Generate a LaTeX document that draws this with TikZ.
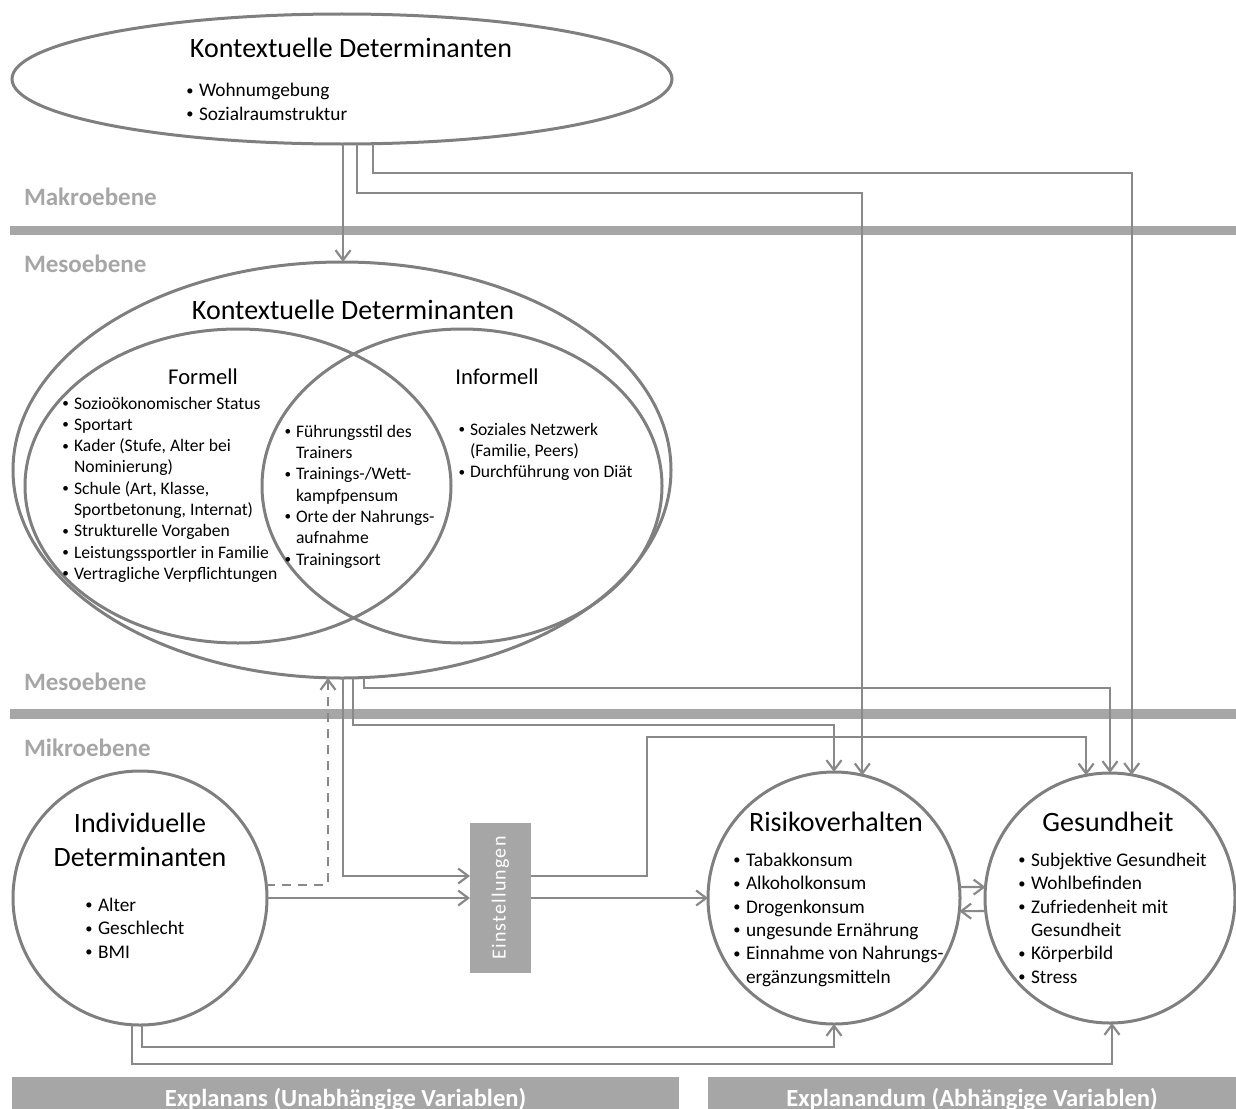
\documentclass[tikz,border=0pt]{standalone}
\usepackage{fontspec}
\setmainfont{Carlito}
\usepackage{graphicx}
\usetikzlibrary{arrows.meta,shapes.geometric}
\definecolor{edgegray}{HTML}{7F7F7F}
\definecolor{linegray}{HTML}{898989}
\definecolor{bargray}{HTML}{A6A6A6}
% hanging bullet: the item text starts at the node's left edge
\newcommand\bp{\llap{\raisebox{0.08em}{\scalebox{0.75}{•}}\hspace{0.28em}}}
\newcommand\fs[2]{\fontsize{#1}{#2}\selectfont}
\begin{document}
\begin{tikzpicture}[x=1pt,y=-1pt,
  every node/.style={inner sep=0pt, outer sep=0pt},
  oval/.style={ellipse, draw=edgegray, line width=3pt},
  disc/.style={circle, draw=edgegray, line width=3pt},
  conn/.style={draw=linegray, line width=2.2pt, -{Straight Barb[length=10pt,width=15pt]}},
  dashconn/.style={conn, dash pattern=on 9pt off 7pt},
  title/.style={anchor=base, font=\fs{28}{34}},
  subtitle/.style={anchor=base, font=\fs{22.6}{27}},
  % lists are placed by the baseline of their last line
  meso list/.style={anchor=base west, align=left, font=\fs{17.6}{21.3}},
  micro list/.style={anchor=base west, align=left, font=\fs{19.3}{23.3}},
  level/.style={anchor=base west, font=\fs{25}{30}\bfseries, text=bargray},
  footer/.style={fill=bargray, anchor=north west, minimum height=44pt,
    font=\fs{24.6}{30}\bfseries, text=white}
]
\useasboundingbox (0,0) rectangle (1236,1108);

% level separators
\fill[bargray] (10,226) rectangle (1236,235);
\fill[bargray] (10,709) rectangle (1236,719);
\node[level] (makro) at (24,205) {Makroebene};
\node[level] (meso1) at (24,272) {Mesoebene};
\node[level] (meso2) at (24,690) {Mesoebene};
\node[level] (mikro) at (24,756) {Mikroebene};

% footer boxes
\node[footer, minimum width=667pt] (explanans) at (12,1077) {Explanans (Unabhängige Variablen)};
\node[footer, minimum width=528pt] (explanandum) at (708,1077) {Explanandum (Abhängige Variablen)};

% macro level
\node[oval, minimum width=660pt, minimum height=130pt] (topE) at (342,79) {};
\node[title] (topTitle) at (351,57) {Kontextuelle Determinanten};
\node[micro list] (topList) at (199,120) {\bp Wohnumgebung\\ \bp Sozialraumstruktur};

% meso level
\node[oval, minimum width=658pt, minimum height=416pt] (meso) at (342,470) {};
\node[oval, minimum width=426pt, minimum height=314pt] (formell) at (238,486) {};
\node[oval, minimum width=400pt, minimum height=314pt] (informell) at (462,486) {};
\node[title] (mesoTitle) at (353,319) {Kontextuelle Determinanten};
\node[subtitle] (formellTitle) at (203,384) {Formell};
\node[subtitle] (informellTitle) at (497,384) {Informell};
\node[meso list] (formellList) at (74,579.4) {\bp Sozioökonomischer Status\\ \bp Sportart\\
  \bp Kader (Stufe, Alter bei\\ Nominierung)\\ \bp Schule (Art, Klasse,\\
  Sportbetonung, Internat)\\ \bp Strukturelle Vorgaben\\ \bp Leistungssportler in Familie\\
  \bp Vertragliche Verpflichtungen};
\node[meso list] (lensList) at (296,565) {\bp Führungsstil des\\ Trainers\\
  \bp Trainings-/Wett-\\ kampfpensum\\ \bp Orte der Nahrungs-\\ aufnahme\\ \bp Trainingsort};
\node[meso list] (informellList) at (470,477.6) {\bp Soziales Netzwerk\\ (Familie, Peers)\\
  \bp Durchführung von Diät};

% micro level
\node[disc, minimum size=254pt] (indiv) at (140,898) {};
\node[title] (indivTitle1) at (140,832) {Individuelle};
\node[title] (indivTitle2) at (140,866) {Determinanten};
\node[micro list] (indivList) at (98,958.1) {\bp Alter\\ \bp Geschlecht\\ \bp BMI};

\node[fill=bargray, minimum width=61pt, minimum height=150pt] (einst) at (500.5,898)
  {\rotatebox{90}{\fs{20}{24}\addfontfeatures{LetterSpace=6}\color{white}Einstellungen}};

\node[disc, minimum size=252pt] (risk) at (834,898) {};
\node[title] (riskTitle) at (836,831.5) {Risikoverhalten};
\node[micro list] (riskList) at (746,983) {\bp Tabakkonsum\\ \bp Alkoholkonsum\\
  \bp Drogenkonsum\\ \bp ungesunde Ernährung\\ \bp Einnahme von Nahrungs-\\ ergänzungsmitteln};

\node[disc, minimum size=250pt] (health) at (1110,898) {};
\node[title] (healthTitle) at (1108,831.5) {Gesundheit};
\node[micro list] (healthList) at (1031,983) {\bp Subjektive Gesundheit\\ \bp Wohlbefinden\\
  \bp Zufriedenheit mit\\ Gesundheit\\ \bp Körperbild\\ \bp Stress};

% connectors from the macro level
\draw[conn] ([xshift=1pt]topE.south) -- ([xshift=1pt]meso.north);
\draw[conn] ([xshift=15pt]topE.south) -- ++(0,49) -| (risk.77.6);
\draw[conn] ([xshift=31pt]topE.south) -- ++(0,29) -| (health.80.3);

% connectors from the meso level
\draw[conn] ([xshift=1pt]meso.south) |- ([yshift=22pt]einst.west);
\draw[conn] ([xshift=11pt]meso.south) -- ++(0,47) -| (risk.north);
\draw[conn] ([xshift=22pt]meso.south) -- ++(0,10) -| (health.north);

% micro level connectors
\draw[dashconn] (indiv.6.8) -| ([xshift=-14pt]meso.south);
\draw[conn] (indiv.east) -- (einst.west);
\draw[conn] ([yshift=22pt]einst.east) -- ++(116,0) -- ++(0,-139) -| (health.101.5);
\draw[conn] (einst.east) -- (risk.west);
\draw[conn] (risk.5) -- (health.175);
\draw[conn] (health.186.9) -- (risk.-6.9);
\draw[conn] ([xshift=2pt]indiv.south) -- ++(0,22) -| (risk.south);
\draw[conn] ([xshift=-8pt]indiv.south) -- ++(0,39) -| ([xshift=2pt]health.south);
\end{tikzpicture}
\end{document}
